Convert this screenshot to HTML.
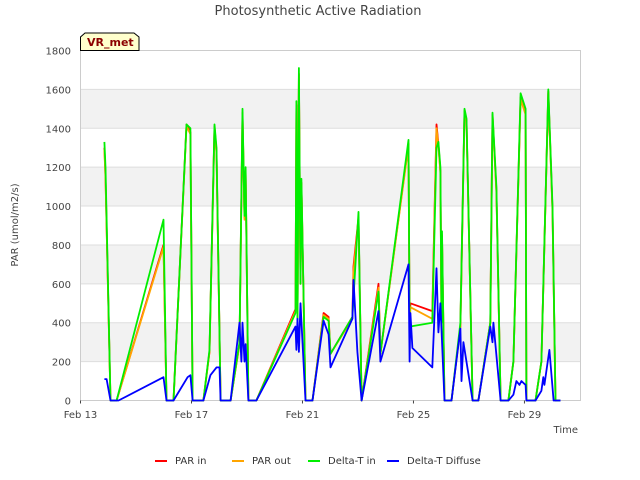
<!DOCTYPE html>
<html><head><meta charset="utf-8"><style>
body{margin:0;background:#fff;}
svg{display:block;font-family:"DejaVu Sans","Liberation Sans",sans-serif;}
</style></head><body>
<svg id="chart" width="640" height="480">
<text x="318" y="15" text-anchor="middle" font-size="13" fill="#444">Photosynthetic Active Radiation</text>
<g id="bands"></g><g id="grid"></g>
<rect x="80.5" y="50.5" width="500" height="350" fill="none" stroke="#ccc"/>
<g id="series"></g><g id="axes"></g>
<text x="18" y="225" transform="rotate(-90 18 225)" text-anchor="middle" font-size="10" fill="#444">PAR (umol/m2/s)</text>
<text x="578" y="433" text-anchor="end" font-size="10" fill="#444">Time</text>
<g>
<path d="M80.5,50.5 L80.5,37 L85,33 L134,33 L139,37 L139,50.5 Z" fill="#ffffcc" stroke="#000"/>
<text x="87" y="46" font-size="11" font-weight="bold" fill="#8b0000">VR_met</text></g>
<g id="legend"></g>
</svg>
<script>
const yTicks=[0,200,400,600,800,1000,1200,1400,1600,1800];
const xTickDays=[0,4,8,12,16];
const xTickLabels=["Feb 13","Feb 17","Feb 21","Feb 25","Feb 29"];
const seriesNames=["PAR in","PAR out","Delta-T in","Delta-T Diffuse"];
const greenT=[0.86,0.90,1.08,1.30,2.99,3.10,3.35,3.82,3.96,4.04,4.43,4.65,4.83,4.90,5.05,5.41,5.73,5.84,5.91,5.95,6.05,6.34,7.75,7.78,7.82,7.87,7.93,7.96,8.11,8.36,8.76,8.94,9.01,9.80,10.02,10.13,10.74,10.81,11.82,11.86,12.68,12.83,12.90,12.97,13.01,13.03,13.12,13.37,13.69,13.84,13.91,14.13,14.34,14.77,14.85,14.99,15.14,15.42,15.60,15.86,16.04,16.07,16.40,16.61,16.86,17.01,17.12,17.30];
const greenV=[1330,1200,0,0,930,0,0,1420,1400,0,0,260,1420,1300,0,0,300,1500,950,1200,0,0,450,1540,400,1710,600,1140,0,0,430,410,240,430,970,0,560,240,1340,380,400,1300,1330,1200,400,870,0,0,400,1500,1450,0,0,400,1480,1100,0,0,200,1580,1500,0,0,200,1600,1000,0,0];
const redT=[0.86,0.90,1.08,1.30,2.99,3.10,3.35,3.82,3.96,4.04,4.43,4.65,4.83,4.90,5.05,5.41,5.73,5.84,5.91,5.95,6.05,6.34,7.75,7.78,7.82,7.87,7.93,7.96,8.11,8.36,8.76,8.94,9.01,9.80,9.84,10.02,10.13,10.74,10.81,11.82,11.86,11.89,12.68,12.83,12.90,12.97,13.01,13.03,13.12,13.37,13.69,13.84,13.91,14.13,14.34,14.77,14.85,14.99,15.14,15.42,15.60,15.86,16.04,16.07,16.40,16.61,16.86,17.01,17.12,17.30];
const redV=[1300,1150,0,0,800,0,0,1420,1380,0,0,250,1410,1280,0,0,290,1480,940,1180,0,0,470,1520,400,1680,600,1120,0,0,450,430,240,430,690,940,0,600,240,1320,380,500,460,1420,1320,1180,400,850,0,0,380,1490,1440,0,0,400,1470,1080,0,0,200,1560,1480,0,0,200,1590,980,0,0];
const orangeV=[1290,1140,0,0,790,0,0,1410,1370,0,0,250,1400,1270,0,0,290,1470,930,1170,0,0,460,1510,400,1670,600,1110,0,0,440,420,240,420,660,930,0,580,240,1310,380,480,420,1400,1310,1170,400,840,0,0,380,1480,1430,0,0,400,1460,1070,0,0,200,1550,1470,0,0,200,1580,970,0,0];
const blueT=[0.86,0.94,1.08,1.37,2.99,3.10,3.35,3.86,3.96,4.04,4.43,4.68,4.90,5.01,5.05,5.41,5.73,5.80,5.84,5.91,5.95,6.05,6.34,7.75,7.78,7.82,7.87,7.93,8.11,8.36,8.76,8.94,9.01,9.80,9.84,9.98,10.13,10.74,10.81,11.82,11.86,11.89,11.96,12.68,12.83,12.90,12.97,13.12,13.37,13.69,13.73,13.80,14.13,14.34,14.77,14.85,14.88,15.14,15.42,15.60,15.71,15.82,15.89,16.04,16.07,16.40,16.61,16.68,16.72,16.90,17.05,17.30];
const blueV=[110,110,0,0,120,0,0,120,130,0,0,130,170,170,0,0,400,200,400,200,290,0,0,380,260,420,250,500,0,0,410,340,170,420,620,250,0,460,200,700,200,450,270,170,680,350,500,0,0,370,100,300,0,0,380,300,400,0,0,30,100,80,100,80,0,0,50,120,80,260,0,0];
const NS="http://www.w3.org/2000/svg";
const X0=80.5,PW=500,Y0=400.5,PH=350,DAYS=18.02,YMAX=1800;
function xs(d){return X0+d/DAYS*PW;}
function ys(v){return Y0-v/YMAX*PH;}
function mk(t,p){const e=document.createElementNS(NS,t);for(const k in p)e.setAttribute(k,p[k]);return e;}
const bands=document.getElementById('bands'),grid=document.getElementById('grid'),axes=document.getElementById('axes');
for(let i=0;i<yTicks.length-1;i++){if(i%2===1){const r=mk('rect',{x:X0,y:ys(yTicks[i+1]),width:PW,height:ys(yTicks[i])-ys(yTicks[i+1]),fill:'#f2f2f2'});

bands.appendChild(r);}}
yTicks.forEach(v=>{const l=mk('line',{x1:X0,x2:X0+PW,y1:ys(v),y2:ys(v),stroke:'#ddd'});

grid.appendChild(l);
const t=mk('text',{x:71,y:ys(v)+4,'text-anchor':'end','font-size':'10',fill:'#444'});t.textContent=v;

axes.appendChild(t);});
xTickDays.forEach((d,i)=>{const l=mk('line',{x1:xs(d),x2:xs(d),y1:Y0,y2:Y0+3,stroke:'#444'});

axes.appendChild(l);
const t=mk('text',{x:xs(d),y:418,'text-anchor':'middle','font-size':'10',fill:'#444'});t.textContent=xTickLabels[i];

axes.appendChild(t);});
const colors=['#ff0000','#ffa500','#00ee00','#0000ff'];
const sdata=[[redT,redV],[redT,orangeV],[greenT,greenV],[blueT,blueV]];
const sg=document.getElementById('series');
sdata.forEach((s,i)=>{const pts=s[0].map((d,j)=>xs(d).toFixed(1)+','+ys(s[1][j]).toFixed(1)).join(' ');
const p=mk('polyline',{points:pts,fill:'none',stroke:colors[i],'stroke-width':'1.8','stroke-linejoin':'round'});

sg.appendChild(p);});
const lg=document.getElementById('legend');const lx=[155,232,308,387];
seriesNames.forEach((n,i)=>{const g=mk('g',{});


g.appendChild(mk('line',{x1:lx[i],x2:lx[i]+12,y1:461,y2:461,stroke:colors[i],'stroke-width':'2'}));
const t=mk('text',{x:lx[i]+20,y:464,'font-size':'10',fill:'#333'});t.textContent=n;g.appendChild(t);lg.appendChild(g);});
</script>
</body></html>
